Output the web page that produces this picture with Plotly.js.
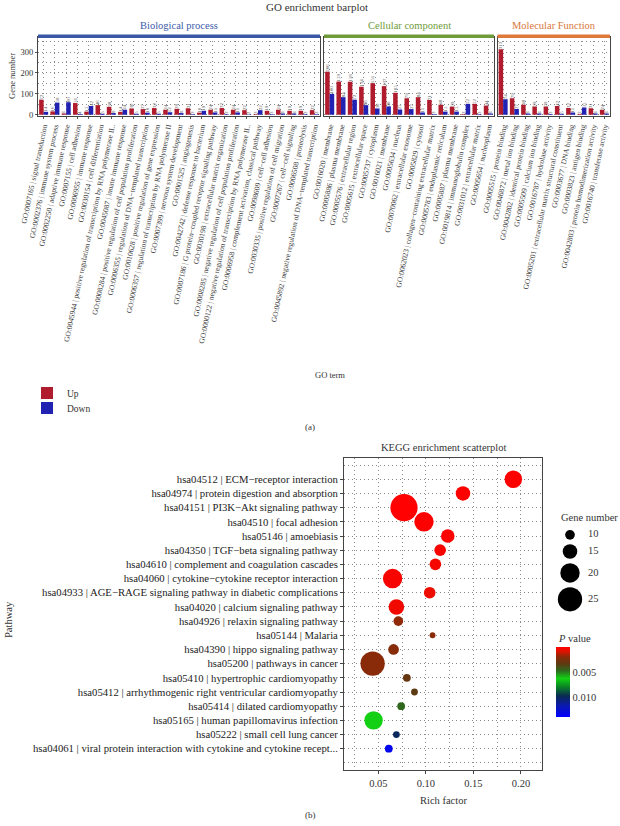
<!DOCTYPE html>
<html><head><meta charset="utf-8">
<script src="https://cdn.plot.ly/plotly-3.0.1.min.js"></script>
<style>html,body{margin:0;padding:0;background:#fff}#chart{width:620px;height:826px}</style>
</head><body><div id="chart"></div>
<script>
// ---------- GO enrichment barplot data ----------
const bpTerms = [
 "GO:0007165 | signal transduction",
 "GO:0002376 | immune system process",
 "GO:0002250 | adaptive immune response",
 "GO:0007155 | cell adhesion",
 "GO:0006955 | immune response",
 "GO:0030154 | cell differentiation",
 "GO:0045944 | positive regulation of transcription by RNA polymerase II..",
 "GO:0045087 | innate immune response",
 "GO:0008284 | positive regulation of cell population proliferation",
 "GO:0006355 | regulation of DNA−templated transcription",
 "GO:0010628 | positive regulation of gene expression",
 "GO:0006357 | regulation of transcription by RNA polymerase II",
 "GO:0007399 | nervous system development",
 "GO:0001525 | angiogenesis",
 "GO:0042742 | defense response to bacterium",
 "GO:0007186 | G protein−coupled receptor signaling pathway",
 "GO:0030198 | extracellular matrix organization",
 "GO:0008285 | negative regulation of cell population proliferation",
 "GO:0000122 | negative regulation of transcription by RNA polymerase II..",
 "GO:0006958 | complement activation, classical pathway",
 "GO:0098609 | cell−cell adhesion",
 "GO:0030335 | positive regulation of cell migration",
 "GO:0007267 | cell−cell signaling",
 "GO:0006508 | proteolysis",
 "GO:0045892 | negative regulation of DNA−templated transcription"
];
const bpUp   = [72, 16, 6, 56, 15, 46, 38, 14, 30, 27, 32, 24, 28, 31, 10, 24, 32, 24, 22, 3, 19, 24, 19, 19, 22];
const bpDown = [14, 58, 60, 4, 42, 5, 8, 24, 5, 10, 5, 12, 8, 3, 19, 11, 3, 11, 2, 22, 3, 6, 6, 3, 3];

const ccTerms = [
 "GO:0016020 | membrane",
 "GO:0005886 | plasma membrane",
 "GO:0005576 | extracellular region",
 "GO:0005615 | extracellular space",
 "GO:0005737 | cytoplasm",
 "GO:0016021 | membrane",
 "GO:0005634 | nucleus",
 "GO:0070062 | extracellular exosome",
 "GO:0005829 | cytosol",
 "GO:0062023 | collagen−containing extracellular matrix",
 "GO:0005783 | endoplasmic reticulum",
 "GO:0005887 | plasma membrane",
 "GO:0019814 | immunoglobulin complex",
 "GO:0031012 | extracellular matrix",
 "GO:0005654 | nucleoplasm"
];
const ccUp   = [206, 159, 158, 134, 151, 137, 105, 79, 84, 71, 48, 39, 3, 52, 44];
const ccDown = [100, 84, 72, 46, 30, 40, 25, 27, 11, 3, 15, 15, 52, 3, 6];

const mfTerms = [
 "GO:0005515 | protein binding",
 "GO:0046872 | metal ion binding",
 "GO:0042802 | identical protein binding",
 "GO:0005509 | calcium ion binding",
 "GO:0016787 | hydrolase activity",
 "GO:0005201 | extracellular matrix structural constituent",
 "GO:0003677 | DNA binding",
 "GO:0003823 | antigen binding",
 "GO:0042803 | protein homodimerization activity",
 "GO:0016740 | transferase activity"
];
const mfUp   = [313, 79, 48, 39, 39, 42, 32, 3, 31, 24];
const mfDown = [74, 27, 6, 6, 3, 5, 11, 35, 6, 6];

const goTicks = [0, 100, 200, 300];

// ---------- KEGG scatter data ----------
const keggPathways = [
 "hsa04512 | ECM−receptor interaction",
 "hsa04974 | protein digestion and absorption",
 "hsa04151 | PI3K−Akt signaling pathway",
 "hsa04510 | focal adhesion",
 "hsa05146 | amoebiasis",
 "hsa04350 | TGF−beta signaling pathway",
 "hsa04610 | complement and coagulation cascades",
 "hsa04060 | cytokine−cytokine receptor interaction",
 "hsa04933 | AGE−RAGE signaling pathway in diabetic complications",
 "hsa04020 | calcium signaling pathway",
 "hsa04926 | relaxin signaling pathway",
 "hsa05144 | Malaria",
 "hsa04390 | hippo signaling pathway",
 "hsa05200 | pathways in cancer",
 "hsa05410 | hypertrophic cardiomyopathy",
 "hsa05412 | arrhythmogenic right ventricular cardiomyopathy",
 "hsa05414 | dilated cardiomyopathy",
 "hsa05165 | human papillomavirus infection",
 "hsa05222 | small cell lung cancer",
 "hsa04061 | viral protein interaction with cytokine and cytokine recept..."
];
const keggRichFactor = [0.192, 0.139, 0.077, 0.098, 0.123, 0.115, 0.110, 0.065, 0.104, 0.069, 0.071, 0.107, 0.066, 0.044, 0.080, 0.088, 0.074, 0.045, 0.069, 0.061];
const keggGeneNumber = [18, 15, 28, 20, 14, 12, 12, 20, 12, 16, 10, 6, 11, 25, 8, 7, 8, 19, 7, 8];
const keggPValue = [0.00001, 0.00002, 0.00003, 0.00005, 0.00008, 0.0002, 0.0003, 0.0002, 0.0005, 0.0004, 0.0019, 0.0020, 0.0021, 0.0020, 0.0031, 0.0034, 0.0047, 0.0063, 0.0100, 0.0135];
const richTicks = [0.05, 0.10, 0.15, 0.20];
const geneLegendValues = [10, 15, 20, 25];
const pTickValues = [0.005, 0.010];

// ---------- layout helpers ----------
const W = 620, H = 826;
const px = v => v / W;
const py = v => 1 - v / H;
const FONT = "Liberation Serif, Times New Roman, serif";
const RED = "#B01C2E", BLUE = "#2222B2";
const GRID = "#8a8a8a", GRIDDASH = "1px,3px";
const sizePx = n => n * 0.97;

const facets = [
 {terms: bpTerms, up: bpUp, down: bpDown, xa: "x", ya: "y", x0: 38, x1: 320, title: "Biological process", color: "#3A56A6", tcolor: "#3B5AAA"},
 {terms: ccTerms, up: ccUp, down: ccDown, xa: "x2", ya: "y2", x0: 324, x1: 494, title: "Cellular component", color: "#6E9B38", tcolor: "#6F9B3A"},
 {terms: mfTerms, up: mfUp, down: mfDown, xa: "x3", ya: "y3", x0: 497.5, x1: 610, title: "Molecular Function", color: "#E0783A", tcolor: "#D8773C"}
];
const panelTop = 37, panelBot = 116;

const legendBase = {xanchor: "left", yanchor: "middle", font: {size: 9.5, family: FONT, color: "#333"}, bgcolor: "rgba(0,0,0,0)", itemwidth: 30, borderwidth: 0};
const traces = [];
const layout = {
  width: W, height: H,
  margin: {l: 0, r: 0, t: 0, b: 0},
  paper_bgcolor: "#fff", plot_bgcolor: "#fff",
  font: {family: FONT, color: "#333"},
  barmode: "group", bargap: 0.2, bargroupgap: 0,
  showlegend: true,
  legend: Object.assign({x: px(27), y: py(393)}, legendBase),
  legend2: Object.assign({x: px(27), y: py(408)}, legendBase),
  annotations: [], shapes: []
};

facets.forEach((f, i) => {
  const sfx = i === 0 ? "" : String(i + 1);
  traces.push({
    type: "bar", x: f.terms, y: f.up, name: "Up", legendgroup: "Up", showlegend: i === 0, legend: "legend",
    xaxis: f.xa, yaxis: f.ya, marker: {color: RED},
    text: f.up.map(String), textposition: "outside", textangle: -90,
    textfont: {size: 5, color: "#555", family: FONT}, constraintext: "none", cliponaxis: false,
    hoverinfo: "skip"
  });
  traces.push({
    type: "bar", x: f.terms, y: f.down, name: "Down", legendgroup: "Down", showlegend: i === 0, legend: "legend2",
    xaxis: f.xa, yaxis: f.ya, marker: {color: BLUE},
    text: f.down.map(String), textposition: "outside", textangle: -90,
    textfont: {size: 5, color: "#555", family: FONT}, constraintext: "none", cliponaxis: false,
    hoverinfo: "skip"
  });
  layout["xaxis" + sfx] = {
    domain: [px(f.x0), px(f.x1)], anchor: f.ya, type: "category",
    tickmode: "array", tickvals: f.terms, ticktext: f.terms, tickangle: -78,
    tickfont: {size: 7.5, color: "#3a3a3a", family: FONT},
    ticks: "outside", ticklen: 2, tickcolor: "#555",
    showgrid: true, gridcolor: GRID, griddash: GRIDDASH, gridwidth: 1,
    showline: true, linecolor: "#444", linewidth: 1, mirror: true,
    range: [-0.5, f.terms.length - 0.5], zeroline: false, automargin: false, fixedrange: true
  };
  layout["yaxis" + sfx] = {
    domain: [py(panelBot), py(panelTop)], anchor: f.xa, range: [-6, 372],
    tickmode: "array", tickvals: goTicks, showticklabels: i === 0,
    tickfont: {size: 8.5, color: "#333", family: FONT},
    ticks: i === 0 ? "outside" : "", ticklen: 2, tickcolor: "#555",
    showgrid: true, gridcolor: GRID, griddash: GRIDDASH,
    minor: {dtick: 50, showgrid: true, gridcolor: GRID, griddash: GRIDDASH},
    showline: true, linecolor: "#444", linewidth: 1, mirror: true,
    zeroline: false, automargin: false, fixedrange: true
  };
  layout.shapes.push({type: "rect", xref: f.xa + " domain", yref: "paper", x0: 0, x1: 1, y0: py(38), y1: py(34.5), fillcolor: f.color, line: {width: 0}, layer: "above"});
  layout.annotations.push({text: f.title, xref: "paper", yref: "paper", x: px((f.x0 + f.x1) / 2), y: py(26), xanchor: "center", yanchor: "middle", showarrow: false, font: {size: 10.5, color: f.tcolor, family: FONT}});
});

// ---------- KEGG scatter ----------
const yIdx = keggPathways.map((_, i) => i);
traces.push({
  type: "scatter", mode: "markers", x: keggRichFactor, y: yIdx, xaxis: "x4", yaxis: "y4", showlegend: false,
  hoverinfo: "skip",
  marker: {
    size: keggGeneNumber.map(sizePx), sizemode: "diameter", opacity: 1,
    color: keggPValue.map(p => -p), cmin: -0.014, cmax: 0, reversescale: true,
    colorscale: [[0, "#ff0000"], [0.06, "#e21200"], [0.14, "#8a2a08"], [0.24, "#5e3a12"], [0.34, "#2d6a1e"], [0.45, "#14d014"], [0.56, "#0a8a22"], [0.7, "#0a2a52"], [0.84, "#0a1ab0"], [1, "#0000ff"]],
    line: {width: 0},
    colorbar: {
      x: px(556), xanchor: "left", y: py(647), yanchor: "top", len: 70 / H, lenmode: "fraction",
      thickness: 13.5, thicknessmode: "pixels", outlinewidth: 0, xpad: 0, ypad: 0,
      tickmode: "array", tickvals: pTickValues.map(v => -v), ticktext: pTickValues.map(v => v.toFixed(3)),
      ticks: "", tickfont: {size: 10.5, color: "#333", family: FONT}, ticklabelposition: "outside",
      title: {text: "", side: "top"}
    }
  }
});

layout.xaxis4 = {
  domain: [px(344), px(542)], anchor: "y4", range: [0.0139, 0.2221],
  tickmode: "array", tickvals: richTicks, ticktext: richTicks.map(v => v.toFixed(2)),
  tickfont: {size: 10.5, color: "#333", family: FONT}, ticks: "outside", ticklen: 3, tickcolor: "#444",
  showgrid: true, gridcolor: GRID, griddash: GRIDDASH,
  minor: {dtick: 0.025, tick0: 0, showgrid: true, gridcolor: GRID, griddash: GRIDDASH},
  showline: true, linecolor: "#444", linewidth: 1, mirror: true, zeroline: false, automargin: false, fixedrange: true
};
layout.yaxis4 = {
  domain: [py(770), py(458)], anchor: "x4", range: [keggPathways.length + 0.5, -1.5],
  tickmode: "array", tickvals: yIdx, ticktext: keggPathways,
  tickfont: {size: 10.7, color: "#222", family: FONT}, ticks: "outside", ticklen: 3, tickcolor: "#444",
  showgrid: true, gridcolor: GRID, griddash: GRIDDASH,
  minor: {dtick: 1, tick0: 0, showgrid: true, gridcolor: GRID, griddash: GRIDDASH},
  showline: true, linecolor: "#444", linewidth: 1, mirror: true, zeroline: false, automargin: false, fixedrange: true
};

// size legend (Gene number) on its own hidden axes, positions computed from sizes
const legY = [];
let cur = 0;
geneLegendValues.forEach((v, i) => {
  const d = sizePx(v);
  if (i === 0) cur = d / 2 + 5; else cur += sizePx(geneLegendValues[i - 1]) / 2 + 4.5 + d / 2;
  legY.push(cur);
});
traces.push({
  type: "scatter", mode: "markers", x: geneLegendValues.map(() => 20), y: legY, xaxis: "x5", yaxis: "y5",
  showlegend: false, hoverinfo: "skip", cliponaxis: false,
  marker: {size: geneLegendValues.map(sizePx), sizemode: "diameter", color: "#000", opacity: 1, line: {width: 0}}
});
traces.push({
  type: "scatter", mode: "text", x: geneLegendValues.map(() => 38), y: legY, xaxis: "x5", yaxis: "y5",
  text: geneLegendValues.map(String), textposition: "middle right",
  textfont: {size: 10.5, color: "#333", family: FONT},
  showlegend: false, hoverinfo: "skip", cliponaxis: false
});
layout.xaxis5 = {domain: [px(550), px(620)], anchor: "y5", range: [0, 70], visible: false, fixedrange: true};
layout.yaxis5 = {domain: [py(615), py(525)], anchor: "x5", range: [90, 0], visible: false, fixedrange: true};

// ---------- text annotations ----------
const ann = (text, x, y, size, opts) => layout.annotations.push(Object.assign({
  text, xref: "paper", yref: "paper", x: px(x), y: py(y), xanchor: "center", yanchor: "middle",
  showarrow: false, font: {size, color: "#333", family: FONT}
}, opts || {}));
ann("GO enrichment barplot", 317, 7, 11);
ann("Gene number", 12, 76, 8.5, {textangle: -90});
ann("GO term", 330, 375, 8.5);
ann("(a)", 310, 427, 9);
ann("KEGG enrichment scatterplot", 443, 447, 10.5);
ann("Pathway", 8, 620, 10.5, {textangle: -90});
ann("Rich factor", 443, 800, 10.5);
ann("Gene number", 559, 517, 10.5, {xanchor: "left"});
ann("<i>P</i> value", 556, 638, 10.5, {xanchor: "left"});
ann("(b)", 310, 815, 9);

Plotly.newPlot("chart", traces, layout, {displayModeBar: false, staticPlot: true});
</script>
</body></html>
